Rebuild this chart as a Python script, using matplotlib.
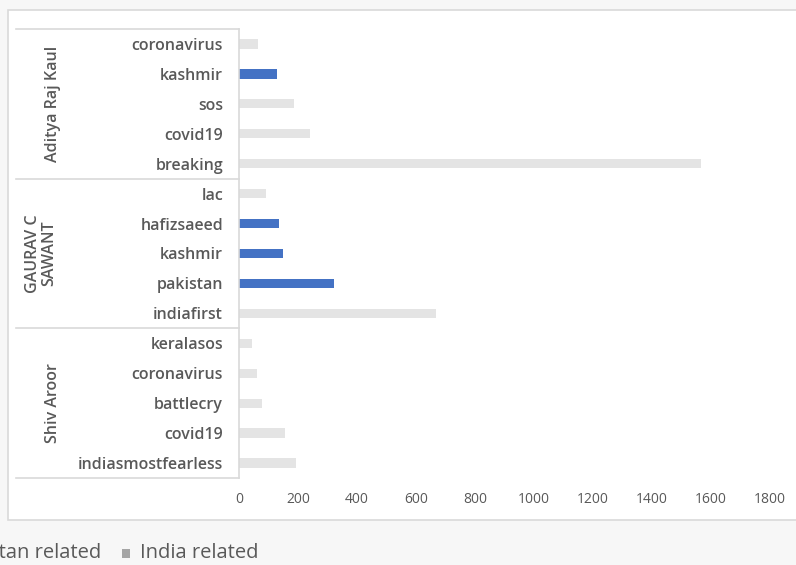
import numpy as np
import matplotlib
matplotlib.use('Agg')
import matplotlib.pyplot as plt
import matplotlib.patches as mpatches
import matplotlib.transforms as mtransforms

plt.rcParams['font.family'] = ['Open Sans', 'DejaVu Sans']

# Data (top to bottom as shown)
groups = ['Aditya Raj Kaul', 'GAURAV C\nSAWANT', 'Shiv Aroor']
hashtags = [
    ['coronavirus', 'kashmir', 'sos', 'covid19', 'breaking'],
    ['lac', 'hafizsaeed', 'kashmir', 'pakistan', 'indiafirst'],
    ['keralasos', 'coronavirus', 'battlecry', 'covid19', 'indiasmostfearless'],
]
counts = [
    [64, 129, 185, 241, 1566],
    [92, 134, 148, 323, 669],
    [45, 61, 78, 156, 193],
]
pakistan_related = [
    [False, True, False, False, False],
    [False, True, True, True, False],
    [False, False, False, False, False],
]
series_names = ['Pakistan related', 'India related']

BLUE = '#4472C4'
GREY = '#E4E4E4'
TEXT = '#595959'
LINE = '#D9D9D9'

W, H = 796, 565
fig = plt.figure(figsize=(W / 100, H / 100), dpi=100, facecolor='#F7F7F7')

# chart area (white box, right side runs off the picture)
fig.patches.append(mpatches.Rectangle((8 / W, 1 - 520 / H), 1.0, (520 - 10) / H,
                                      transform=fig.transFigure, facecolor='white',
                                      edgecolor=LINE, linewidth=1.2, zorder=-5))

ax = fig.add_axes([239 / W, 1 - 478 / H, (770 - 239) / W, (478 - 29) / H], zorder=2)
ax.set_facecolor('none')

labels = [t for g in hashtags for t in g]
values = [v for g in counts for v in g]
is_pak = [p for g in pakistan_related for p in g]
y = np.arange(len(labels))
colors = [BLUE if p else GREY for p in is_pak]
ax.barh(y, values, height=0.31, color=colors, zorder=2)

ax.set_xlim(0, 1800)
ax.set_ylim(len(labels) - 0.5, -0.5)
ax.set_xticks(np.arange(0, 1801, 200))
ax.set_yticks(y)
ax.set_yticklabels(labels, fontsize=11.5, color=TEXT, fontweight='semibold')
ax.tick_params(axis='y', length=0, pad=11.5)
ax.tick_params(axis='x', length=0, pad=10, labelsize=10, labelcolor=TEXT)
for s in ['top', 'right', 'bottom']:
    ax.spines[s].set_visible(False)
ax.spines['left'].set_color(LINE)
ax.spines['left'].set_linewidth(1.2)

# multi-level category boxes
trans = mtransforms.blended_transform_factory(ax.transAxes, ax.transData)
span = 770 - 239
x_left = (16 - 239) / span
n = len(hashtags[0])
for k in range(len(groups) + 1):
    yb = k * n - 0.5
    ax.plot([x_left, 0], [yb, yb], color=LINE, lw=1.2, transform=trans, clip_on=False)
for k, g in enumerate(groups):
    yc = k * n + (n - 1) / 2
    xc = (41 if '\n' in g else 53) - 239
    ax.text(xc / span, yc, g, transform=trans, rotation=90, ha='center',
            va='center', fontsize=11.5, color=TEXT, fontweight='semibold',
            linespacing=1.0)

# legend below chart, cut off at the left edge like the reference
leg_y = 1 - 553 / H
fig.text(101 / W, leg_y, series_names[0], ha='right', va='center',
         fontsize=14.5, color=TEXT)
fig.patches.append(mpatches.Rectangle((122 / W, 1 - 558 / H), 8 / W, 9 / H,
                                      transform=fig.transFigure, facecolor='#A5A5A5',
                                      edgecolor='none'))
fig.text(140 / W, leg_y, series_names[1], ha='left', va='center',
         fontsize=14.5, color=TEXT)

fig.savefig('out.png', dpi=100, facecolor=fig.get_facecolor())
